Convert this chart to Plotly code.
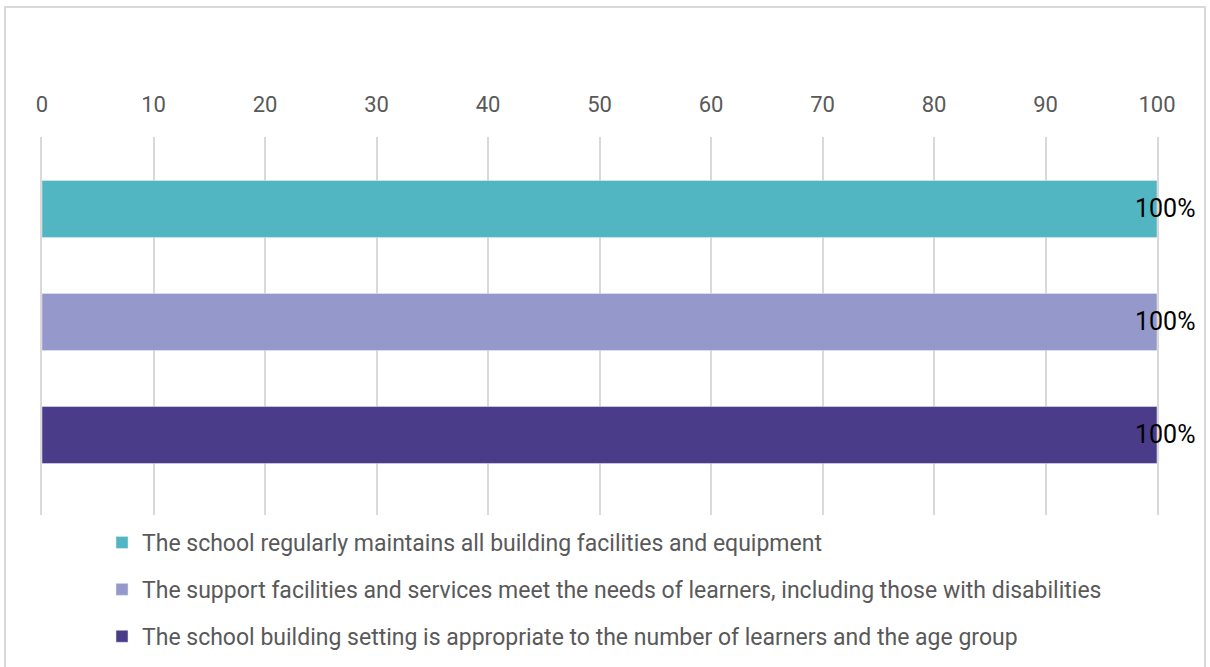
import plotly.graph_objects as go

categories = [
    "The school regularly maintains all building facilities and equipment",
    "The support facilities and services meet the needs of learners, including those with disabilities",
    "The school building setting is appropriate to the number of learners and the age group",
]
values = [100, 100, 100]
labels = ["100%", "100%", "100%"]
colors = ["#52B5C2", "#9598CB", "#4B3C8A"]
tick_vals = [0, 10, 20, 30, 40, 50, 60, 70, 80, 90, 100]

FONT = "Roboto"
fig = go.Figure()
for i, (c, v, col) in enumerate(zip(categories, values, colors)):
    fig.add_trace(go.Bar(
        y=[c], x=[v], orientation="h", name=c, marker_color=col,
        width=0.504, legendgroup=f"g{i}", showlegend=True,
    ))
    fig.add_annotation(x=v, y=c, text=labels[i], showarrow=False,
                       xanchor="left", xshift=-24, yshift=0,
                       font=dict(family=FONT, size=25, color="#000000"))

L, R, T, B = 42, 53, 137, 152
W, H = 1210, 667
pw, ph = W - L - R, H - T - B
fig.add_shape(type="rect", xref="paper", yref="paper",
              x0=(5 - L) / pw, x1=(1205 - L) / pw,
              y0=(H - B - 700) / ph, y1=(H - B - 7) / ph,
              line=dict(color="#d9d9d9", width=2), fillcolor="rgba(0,0,0,0)", layer="below")

fig.update_layout(
    width=W, height=H,
    margin=dict(l=L, r=R, t=T, b=B, autoexpand=False),
    plot_bgcolor="white", paper_bgcolor="white",
    font=dict(family=FONT, size=22, color="#595959"),
    barmode="overlay",
    xaxis=dict(side="top", range=[0, 100], tickvals=tick_vals, showgrid=True,
               gridcolor="#d9d9d9", gridwidth=1.5, zeroline=False, showline=False,
               ticks="", ticklabelstandoff=20,
               tickfont=dict(family=FONT, size=22, color="#595959")),
    yaxis=dict(categoryorder="array", categoryarray=categories,
               range=[2.708, -0.637], showticklabels=False, showgrid=False,
               zeroline=False, showline=True, mirror=True, linecolor="#d9d9d9",
               linewidth=1.5, layer="below traces"),
    legend=dict(orientation="v", x=(102 - L) / pw, y=(H - B - 521) / ph,
                xanchor="left", yanchor="top", tracegroupgap=14,
                font=dict(family=FONT, size=23, color="#595959"),
                itemwidth=30, traceorder="grouped"),
    showlegend=True,
)
fig.write_html("out.html", config={"displayModeBar": False},
               post_script="document.body.style.margin='0';")
